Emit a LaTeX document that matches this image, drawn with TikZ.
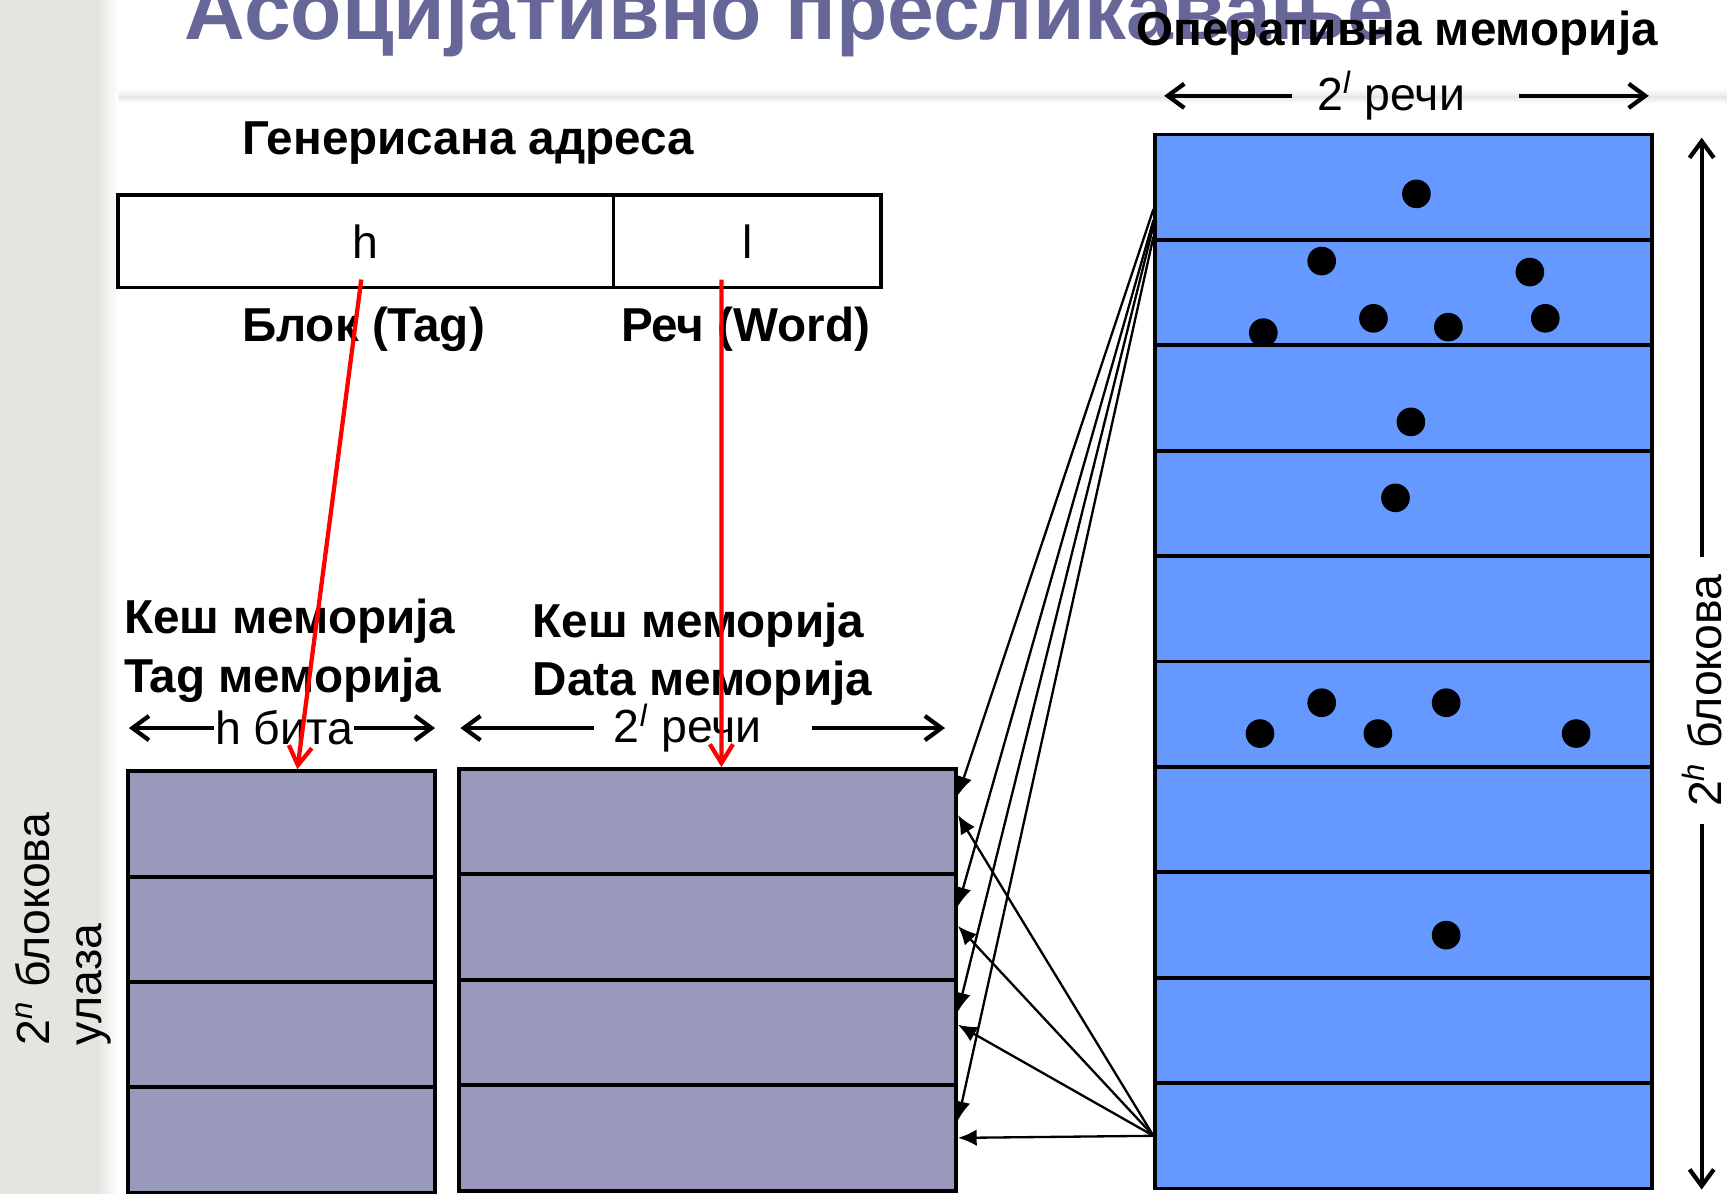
\documentclass[tikz,border=0pt]{standalone}
\usepackage{fontspec}
\setmainfont{Liberation Sans}
\usetikzlibrary{arrows.meta}

\definecolor{memblue}{RGB}{102,153,255}
\definecolor{cachegray}{RGB}{153,153,187}
\definecolor{titlecol}{RGB}{102,102,153}
\definecolor{stripgray}{RGB}{227,229,224}

\tikzstyle{memrow} = [
    rectangle,
    minimum width=4.51cm,
    minimum height=0.957cm,
    inner sep=0pt,
    fill=memblue,
    draw=black,
    line width=1pt
]
\tikzstyle{tagrow} = [
    rectangle,
    minimum width=2.79cm,
    minimum height=0.957cm,
    inner sep=0pt,
    fill=cachegray,
    draw=black,
    line width=1pt
]
\tikzstyle{datarow} = [
    tagrow,
    minimum width=4.51cm
]
\tikzstyle{field} = [
    rectangle,
    minimum height=0.84cm,
    inner sep=0pt,
    draw=black,
    line width=1pt,
    font=\fontsize{12}{14}\selectfont
]
\tikzstyle{heading} = [font=\fontsize{12.3}{15.2}\selectfont\bfseries, inner sep=0pt]
\tikzstyle{plain} = [font=\fontsize{12}{14}\selectfont, inner sep=0pt]
\tikzstyle{arrow} = [line width=0.6pt,-{Latex[length=0.17cm,width=0.15cm]}]
\tikzstyle{redarrow} = [red, line width=1.1pt,-{Straight Barb[length=0.17cm,width=0.21cm]}]
\tikzstyle{dimarrow} = [line width=1.1pt,-{Straight Barb[length=0.15cm,width=0.22cm]}]

\begin{document}
\begin{tikzpicture}[node distance=0.957cm]

\useasboundingbox (0,0) rectangle (15.68,-10.84);

% slide background
\fill[stripgray] (0,0) rectangle (0.88,-10.84);
\shade[left color=stripgray, right color=white] (0.88,0) rectangle (1.08,-10.84);
\shade[top color=white, bottom color=gray!18] (1.08,-0.80) rectangle (15.68,-0.88);
\shade[top color=gray!18, bottom color=white] (1.08,-0.88) rectangle (15.68,-0.94);

\node (title) [anchor=base west, text=titlecol, inner sep=0pt,
    font=\fontsize{21.7}{24}\selectfont\bfseries] at (1.67,-0.355)
{Асоцијативно пресликавање};

% main memory
\node (mem1) [memrow] at (12.745,-1.699) {};
\node (mem2) [memrow, below of=mem1] {};
\node (mem3) [memrow, below of=mem2] {};
\node (mem4) [memrow, below of=mem3] {};
\node (mem5) [memrow, below of=mem4] {};
\node (mem6) [memrow, below of=mem5] {};
\node (mem7) [memrow, below of=mem6] {};
\node (mem8) [memrow, below of=mem7] {};
\node (mem9) [memrow, below of=mem8] {};
\node (mem10) [memrow, below of=mem9] {};

% occupied words
\fill (12.86,-1.76) circle (0.13);
\fill (12.00,-2.37) circle (0.13);
\fill (13.89,-2.47) circle (0.13);
\fill (11.47,-3.02) circle (0.13);
\fill (12.47,-2.89) circle (0.13);
\fill (13.15,-2.97) circle (0.13);
\fill (14.03,-2.89) circle (0.13);
\fill (12.81,-3.83) circle (0.13);
\fill (12.67,-4.52) circle (0.13);
\fill (11.44,-6.66) circle (0.13);
\fill (12.00,-6.38) circle (0.13);
\fill (12.51,-6.66) circle (0.13);
\fill (13.13,-6.38) circle (0.13);
\fill (14.31,-6.66) circle (0.13);
\fill (13.13,-8.49) circle (0.13);

\node (memname) [heading] at (12.685,-0.30) {Оперативна меморија};
\node (memwidth) [plain] at (12.63,-0.87) {2\textsuperscript{\itshape l} речи};
\draw [dimarrow] ([xshift=-0.22cm]memwidth.west) -- (10.57,-0.87);
\draw [dimarrow] ([xshift=0.48cm]memwidth.east) -- (14.97,-0.87);

\node (memheight) [plain, rotate=90] at (15.45,-6.27) {2\textsuperscript{\itshape h} блокова};
\draw [dimarrow] ([yshift=0.15cm]memheight.east) -- (15.45,-1.25);
\draw [dimarrow] ([yshift=-0.15cm]memheight.west) -- (15.45,-10.80);

% generated address
\node (tagfield) [field, minimum width=4.50cm] at (3.32,-2.19) {h};
\node (wordfield) [field, minimum width=2.43cm] at (6.785,-2.19) {l};
\node (addrname) [heading] at (4.25,-1.30) {Генерисана адреса};
\node (tagname) [heading] at (3.30,-2.99) {Блок (Tag)};
\node (wordname) [heading] at (6.77,-2.99) {Реч (Word)};

% cache memory
\node (tagrow1) [tagrow] at (2.555,-7.48) {};
\node (tagrow2) [tagrow, below of=tagrow1] {};
\node (tagrow3) [tagrow, below of=tagrow2] {};
\node (tagrow4) [tagrow, below of=tagrow3] {};

\node (datarow1) [datarow] at (6.425,-7.46) {};
\node (datarow2) [datarow, below of=datarow1] {};
\node (datarow3) [datarow, below of=datarow2] {};
\node (datarow4) [datarow, below of=datarow3] {};

\node (tagmem) [heading, anchor=west, align=left] at (1.12,-5.91)
{Кеш меморија\\Tag меморија};
\node (datamem) [heading, anchor=west, align=left] at (4.83,-5.94)
{Кеш меморија\\Data меморија};

\node (tagwidth) [plain] at (2.58,-6.61) {h бита};
\draw [dimarrow] (tagwidth.west) -- (1.17,-6.61);
\draw [dimarrow] (tagwidth.east) -- (3.95,-6.61);

\node (datawidth) [plain] at (6.245,-6.61) {2\textsuperscript{\itshape l} речи};
\draw [dimarrow] ([xshift=-0.17cm]datawidth.west) -- (4.18,-6.61);
\draw [dimarrow] ([xshift=0.45cm]datawidth.east) -- (8.58,-6.61);

\node (leftrows) [plain, rotate=90, anchor=west] at (0.30,-9.50) {2\textsuperscript{\itshape n} блокова};
\node (leftentries) [plain, rotate=90, anchor=west] at (0.85,-9.50) {улаза};

% address fields to cache
\draw [redarrow] ([xshift=-0.04cm, yshift=0.09cm]tagfield.south) -- ([xshift=0.145cm]tagrow1.north);
\draw [redarrow] ([xshift=-0.235cm, yshift=0.09cm]wordfield.south) -- ([xshift=0.125cm]datarow1.north);

% any block may go to any line
\draw [arrow] ([yshift=-0.20cm]mem1.west) -- ([yshift=0.24cm]datarow1.east);
\draw [arrow] ([yshift=-0.30cm]mem1.west) -- ([yshift=0.19cm]datarow2.east);
\draw [arrow] ([yshift=-0.35cm]mem1.west) -- ([yshift=0.19cm]datarow3.east);
\draw [arrow] ([yshift=-0.45cm]mem1.west) -- ([yshift=0.16cm]datarow4.east);

\draw [arrow] (mem10.west) -- ([yshift=0.06cm]datarow1.east);
\draw [arrow] (mem10.west) -- ([yshift=0.01cm]datarow2.east);
\draw [arrow] (mem10.west) -- ([yshift=0.07cm]datarow3.east);
\draw [arrow] (mem10.west) -- (datarow4.east);

\end{tikzpicture}
\end{document}
